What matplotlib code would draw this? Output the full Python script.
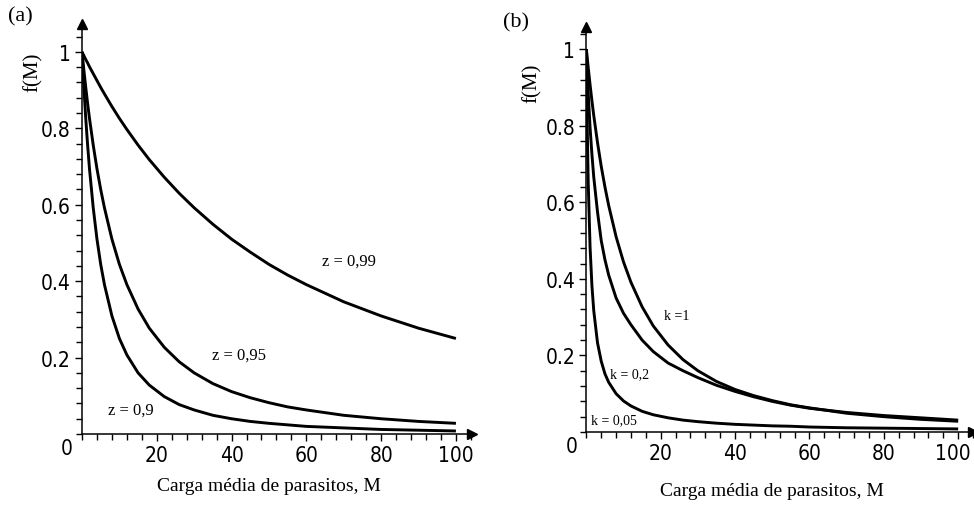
import matplotlib
matplotlib.use("Agg")
import matplotlib.pyplot as plt
from matplotlib.ticker import MultipleLocator, FixedLocator
from matplotlib.transforms import ScaledTranslation

# (a) k = 1, three values of z
m_a = [0, 0.5, 1, 1.5, 2, 3, 4, 5, 6, 8, 10, 12, 15, 18, 22, 26, 30, 35,
       40, 45, 50, 55, 60, 70, 80, 90, 100]
f_z099 = [1.0, 0.990, 0.980, 0.971, 0.961, 0.943, 0.925, 0.907, 0.890, 0.857,
          0.826, 0.797, 0.756, 0.718, 0.672, 0.630, 0.592, 0.549, 0.510, 0.476,
          0.444, 0.416, 0.391, 0.346, 0.309, 0.277, 0.250]
f_z095 = [1.0, 0.952, 0.907, 0.865, 0.826, 0.756, 0.694, 0.640, 0.592, 0.510,
          0.444, 0.391, 0.327, 0.277, 0.227, 0.189, 0.160, 0.132, 0.111, 0.095,
          0.082, 0.071, 0.063, 0.049, 0.040, 0.033, 0.028]
f_z090 = [1.0, 0.907, 0.826, 0.756, 0.694, 0.592, 0.510, 0.444, 0.391, 0.309,
          0.250, 0.207, 0.160, 0.128, 0.098, 0.077, 0.063, 0.049, 0.040, 0.033,
          0.028, 0.024, 0.020, 0.016, 0.012, 0.010, 0.008]

# (b) z = 0.95, three values of k
m_b = [0, 0.25, 0.5, 1, 1.5, 2, 3, 4, 5, 6, 8, 10, 12, 15, 18, 22, 26, 30,
       35, 40, 45, 50, 55, 60, 70, 80, 90, 100]
f_k1 = [1.0, 0.976, 0.952, 0.907, 0.865, 0.826, 0.756, 0.694, 0.640, 0.592,
        0.510, 0.444, 0.391, 0.327, 0.277, 0.227, 0.189, 0.160, 0.132, 0.111,
        0.095, 0.082, 0.071, 0.063, 0.049, 0.040, 0.033, 0.028]
f_k02 = [1.0, 0.940, 0.885, 0.795, 0.725, 0.665, 0.575, 0.500, 0.450, 0.410,
         0.350, 0.310, 0.280, 0.240, 0.210, 0.180, 0.160, 0.142, 0.122, 0.106,
         0.092, 0.080, 0.070, 0.062, 0.051, 0.043, 0.037, 0.031]
f_k005 = [1.0, 0.791, 0.653, 0.483, 0.382, 0.316, 0.233, 0.185, 0.152, 0.130,
          0.100, 0.081, 0.068, 0.054, 0.045, 0.037, 0.031, 0.027, 0.023, 0.020,
          0.018, 0.016, 0.015, 0.013, 0.011, 0.010, 0.009, 0.008]

x_ticks = [20, 40, 60, 80, 100]
x_tick_labels = ["20", "40", "60", "80", "100"]
y_ticks = [0.2, 0.4, 0.6, 0.8, 1.0]
y_tick_labels = ["0.2", "0.4", "0.6", "0.8", "1"]

NUM = dict(family=["DejaVu Sans"], stretch="condensed", fontsize=15)
SERIF = ["Liberation Serif", "DejaVu Serif"]


def setup_axes(ax, xmax, ymax, panel, ylabel_xy, xlabel_dy):
    ax.set_xlim(0, xmax)
    ax.set_ylim(0, ymax)
    for side in ("top", "right"):
        ax.spines[side].set_visible(False)
    for side in ("left", "bottom"):
        ax.spines[side].set_linewidth(1.1)
    ax.xaxis.set_major_locator(FixedLocator(x_ticks))
    ax.xaxis.set_minor_locator(MultipleLocator(4))
    ax.yaxis.set_major_locator(FixedLocator(y_ticks))
    ax.yaxis.set_minor_locator(MultipleLocator(0.04))
    ax.set_xticklabels(x_tick_labels, **NUM)
    ax.set_yticklabels(y_tick_labels, **NUM)
    ax.tick_params(which="major", length=5, width=1, pad=3)
    ax.tick_params(which="minor", length=4, width=1)
    # arrow heads on the axes
    ax.plot(xmax, 0, ">k", ms=7, clip_on=False)
    ax.plot(0, ymax, "^k", ms=7, clip_on=False)
    ax.annotate("0", xy=(0, 0), xytext=(-15, -14), textcoords="offset pixels",
                ha="center", va="center", **NUM)
    ax.annotate("Carga média de parasitos, M", xy=(50, 0), xytext=(0, xlabel_dy),
                textcoords="offset pixels", ha="center", va="center",
                family=SERIF, fontsize=14)
    fig.text(ylabel_xy[0] / 974, 1 - ylabel_xy[1] / 510, "f(M)", rotation=90,
             ha="center", va="center", family=SERIF, fontsize=15)
    fig.text(panel[1] / 974, 1 - panel[2] / 510, panel[0], ha="center",
             va="center", family=SERIF, fontsize=16)


fig = plt.figure(figsize=(9.74, 5.10), dpi=100)

ax1 = fig.add_axes([0.0842, 0.147, 0.400, 0.804])
for f in (f_z099, f_z095, f_z090):
    ax1.plot(m_a, f, color="black", lw=2.1, solid_capstyle="butt")
setup_axes(ax1, 104.2, 1.073, ("(a)", 20, 17), (33, 72), -51)
ax1.text(71.4, 0.454, "z = 0,99", ha="center", va="center", family=SERIF, fontsize=12)
ax1.text(42, 0.208, "z = 0,95", ha="center", va="center", family=SERIF, fontsize=12)
ax1.text(13.1, 0.065, "z = 0,9", ha="center", va="center", family=SERIF, fontsize=12)

ax2 = fig.add_axes([0.602, 0.151, 0.397, 0.7935])
for f in (f_k1, f_k02, f_k005):
    ax2.plot(m_b, f, color="black", lw=2.1, solid_capstyle="butt")
setup_axes(ax2, 104.0, 1.057, ("(b)", 516, 23), (532, 83), -59)
ax2.text(24.4, 0.305, "k =1", ha="center", va="center", family=SERIF, fontsize=10)
ax2.text(11.7, 0.151, "k = 0,2", ha="center", va="center", family=SERIF, fontsize=10)
ax2.text(7.3, 0.033, "k = 0,05", ha="center", va="center", family=SERIF, fontsize=10)

# keep the last label of (b) inside the figure
last = ax2.get_xticklabels()[-1]
last.set_transform(last.get_transform() + ScaledTranslation(-5 / 100, 0, fig.dpi_scale_trans))

fig.savefig("out.png", dpi=100)
